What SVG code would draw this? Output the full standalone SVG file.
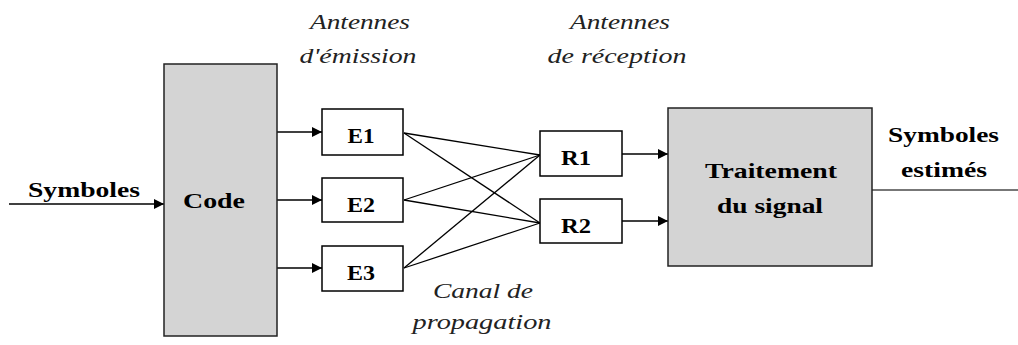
<svg xmlns="http://www.w3.org/2000/svg" width="1018" height="345" viewBox="0 0 1018 345">
<style>
.box{fill:#fff;stroke:#000;stroke-width:1.5}
.gbox{fill:#d4d4d4;stroke:#222;stroke-width:1.5}
.ln{stroke:#000;stroke-width:1.3;fill:none}
.ar{stroke:#000;stroke-width:1.5;fill:none;marker-end:url(#ah)}
</style>
<defs>
<marker id="ah" markerUnits="userSpaceOnUse" markerWidth="11" markerHeight="11" refX="10" refY="5" orient="auto">
<path d="M0,0 L10,5 L0,10 z" fill="#000"/>
</marker>
</defs>
<rect width="1018" height="345" fill="#fff"/>
<g id="connectors">
<line class="ar" x1="9" y1="204" x2="164" y2="204"/>
<line class="ar" x1="277" y1="132" x2="322" y2="132"/>
<line class="ar" x1="277" y1="200" x2="322" y2="200"/>
<line class="ar" x1="277" y1="268" x2="322" y2="268"/>
<line class="ln" x1="404" y1="133" x2="540" y2="155"/>
<line class="ln" x1="404" y1="133" x2="540" y2="223"/>
<line class="ln" x1="404" y1="200" x2="540" y2="155"/>
<line class="ln" x1="404" y1="200" x2="540" y2="223"/>
<line class="ln" x1="404" y1="268" x2="540" y2="155"/>
<line class="ln" x1="404" y1="268" x2="540" y2="223"/>
<line class="ar" x1="622" y1="154" x2="668" y2="154"/>
<line class="ar" x1="622" y1="221" x2="668" y2="221"/>
<line x1="872" y1="190" x2="1018" y2="190" stroke="#777" stroke-width="2.2"/>
</g>
<g font-family="Liberation Serif, DejaVu Serif, serif" font-weight="bold" font-size="22" fill="#000" text-anchor="middle">
<g id="lbl-in"><text x="84" y="197" textLength="112" lengthAdjust="spacingAndGlyphs">Symboles</text></g>
<g id="lbl-out">
<text x="943.5" y="142" textLength="111" lengthAdjust="spacingAndGlyphs">Symboles</text>
<text x="944" y="177" textLength="86" lengthAdjust="spacingAndGlyphs">estimés</text>
</g>
<g id="code">
<rect class="gbox" x="164" y="64" width="113" height="272"/>
<text x="214" y="208" textLength="62" lengthAdjust="spacingAndGlyphs">Code</text>
</g>
<g id="e1"><rect class="box" x="322" y="109" width="81" height="46"/><text x="361" y="143" textLength="27" lengthAdjust="spacingAndGlyphs">E1</text></g>
<g id="e2"><rect class="box" x="322" y="178" width="81" height="44"/><text x="361" y="212" textLength="28" lengthAdjust="spacingAndGlyphs">E2</text></g>
<g id="e3"><rect class="box" x="322" y="246" width="81" height="45"/><text x="361" y="280" textLength="28" lengthAdjust="spacingAndGlyphs">E3</text></g>
<g id="r1"><rect class="box" x="540" y="131" width="82" height="45"/><text x="576" y="165" textLength="30" lengthAdjust="spacingAndGlyphs">R1</text></g>
<g id="r2"><rect class="box" x="540" y="199" width="82" height="44"/><text x="576" y="233" textLength="30" lengthAdjust="spacingAndGlyphs">R2</text></g>
<g id="traitement">
<rect class="gbox" x="668" y="108" width="204" height="158"/>
<text x="771" y="178" textLength="132" lengthAdjust="spacingAndGlyphs">Traitement</text>
<text x="770" y="213" textLength="106" lengthAdjust="spacingAndGlyphs">du signal</text>
</g>
</g>
<g id="labels" font-family="Liberation Serif, DejaVu Serif, serif" font-style="italic" font-size="22" fill="#222" text-anchor="middle">
<text x="360" y="29" textLength="100" lengthAdjust="spacingAndGlyphs">Antennes</text>
<text x="358" y="63" textLength="117" lengthAdjust="spacingAndGlyphs">d'émission</text>
<text x="620" y="29" textLength="100" lengthAdjust="spacingAndGlyphs">Antennes</text>
<text x="617" y="63" textLength="139" lengthAdjust="spacingAndGlyphs">de réception</text>
<text x="483" y="298" textLength="100" lengthAdjust="spacingAndGlyphs">Canal de</text>
<text x="482" y="329" textLength="139" lengthAdjust="spacingAndGlyphs">propagation</text>
</g>
</svg>
